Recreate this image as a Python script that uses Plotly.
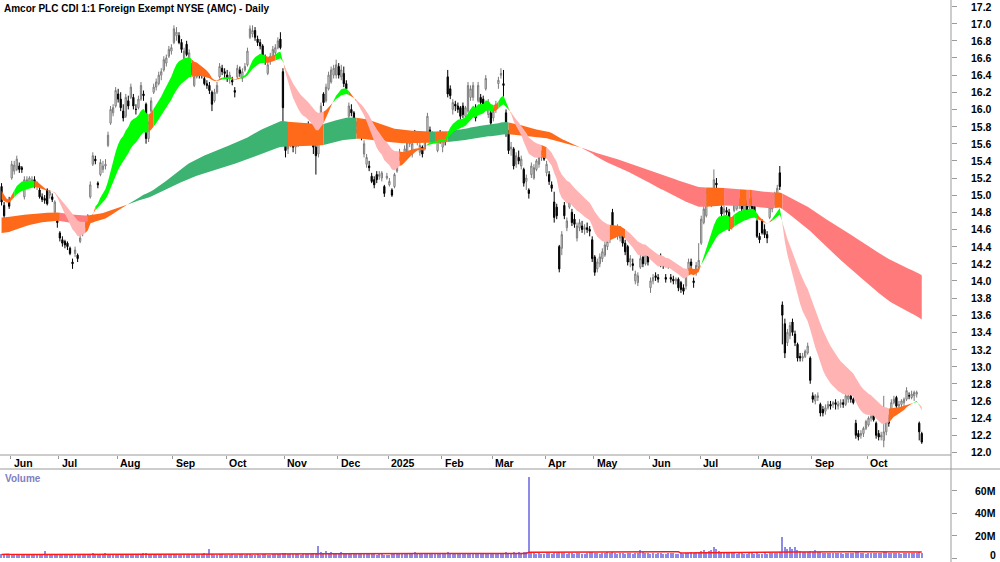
import numpy as np
import pandas as pd
import plotly.graph_objects as go

# ---------------- data (ASX trading days, 28 May 2024 - 30 Oct 2025) ----------------
asx_holidays = ["2024-06-10", "2024-12-25", "2024-12-26", "2025-01-01", "2025-01-27",
                "2025-04-18", "2025-04-21", "2025-04-25", "2025-06-09"]
all_days = pd.bdate_range("2024-05-28", "2025-10-30")
dates = all_days[~all_days.isin(pd.to_datetime(asx_holidays))]

opens = [
    15.10, 14.88, 14.70, 14.94, 15.20, 15.28, 15.30, 15.34, 15.32, 14.98,
    15.12, 15.14, 15.16, 15.18, 15.10, 15.06, 14.98, 14.96, 15.06, 15.00,
    14.98, 14.80, 14.70, 14.56, 14.48, 14.46, 14.44, 14.38, 14.22, 14.32,
    14.30, 14.46, 14.55, 14.66, 14.68, 14.98, 15.36, 15.42, 15.14, 15.24,
    15.30, 15.34, 15.58, 15.84, 15.96, 16.04, 16.18, 16.12, 15.98, 15.92,
    16.10, 16.14, 16.14, 16.00, 16.02, 16.12, 16.18, 16.06, 15.66, 15.98,
    16.20, 16.26, 16.30, 16.40, 16.46, 16.54, 16.62, 16.68, 16.78, 16.86,
    16.86, 16.78, 16.52, 16.76, 16.56, 16.50, 16.28, 16.38, 16.46, 16.40,
    16.36, 16.30, 16.28, 16.20, 16.10, 16.20, 16.38, 16.48, 16.44, 16.40,
    16.36, 16.34, 16.22, 16.38, 16.46, 16.36, 16.46, 16.52, 16.84, 16.88,
    16.92, 16.82, 16.78, 16.74, 16.60, 16.42, 16.56, 16.62, 16.66, 16.72,
    16.82, 16.44, 15.76, 15.54, 15.62, 15.66, 15.56, 15.60, 15.70, 15.64,
    15.72, 15.80, 15.70, 15.66, 15.56, 15.48, 15.88, 16.18, 16.10, 16.24,
    16.32, 16.40, 16.40, 16.50, 16.38, 16.42, 16.30, 15.92, 16.00, 15.96,
    15.76, 15.80, 15.72, 15.48, 15.36, 15.34, 15.22, 15.18, 15.24, 15.22,
    15.20, 15.10, 15.20, 15.12, 15.06, 15.10, 15.28, 15.44, 15.44, 15.48,
    15.50, 15.60, 15.48, 15.72, 15.64, 15.50, 15.56, 15.54, 15.68, 15.76,
    15.70, 15.64, 15.52, 15.70, 15.56, 15.66, 16.38, 16.24, 16.00, 16.06,
    16.04, 16.02, 16.04, 15.92, 15.98, 16.14, 16.14, 16.02, 16.10, 16.14,
    16.12, 16.24, 15.94, 15.96, 15.90, 16.00, 16.30, 16.40, 16.30, 15.96,
    15.72, 15.54, 15.54, 15.36, 15.44, 15.34, 15.30, 15.16, 15.06, 15.24,
    15.20, 15.30, 15.36, 15.44, 15.50, 15.26, 15.24, 15.12, 14.92, 14.86,
    14.40, 14.38, 14.88, 14.62, 14.86, 14.80, 14.72, 14.50, 14.62, 14.64,
    14.60, 14.62, 14.60, 14.48, 14.28, 14.14, 14.20, 14.26, 14.30, 14.40,
    14.48, 14.80, 14.56, 14.52, 14.50, 14.56, 14.44, 14.40, 14.22, 14.20,
    14.00, 13.98, 14.16, 14.28, 14.20, 14.30, 13.92, 14.00, 14.06, 14.04,
    14.28, 14.22, 14.04, 14.18, 14.04, 14.02, 14.00, 14.02, 13.98, 13.92,
    13.94, 14.14, 14.22, 14.00, 14.10, 14.16, 14.44, 14.68, 14.76, 14.92,
    14.88, 15.08, 15.14, 15.04, 14.86, 14.80, 14.82, 14.80, 14.64, 14.82,
    14.84, 14.88, 14.96, 14.82, 14.90, 14.86, 14.94, 14.90, 14.70, 14.52,
    14.70, 14.60, 14.54, 14.74, 14.84, 14.90, 15.00, 15.26, 13.72, 13.50,
    13.28, 13.36, 13.52, 13.38, 13.26, 13.12, 13.10, 13.12, 13.16, 13.10,
    12.66, 12.60, 12.64, 12.56, 12.50, 12.48, 12.52, 12.56, 12.56, 12.58,
    12.54, 12.56, 12.58, 12.56, 12.62, 12.66, 12.62, 12.34, 12.22, 12.20,
    12.22, 12.28, 12.32, 12.40, 12.52, 12.34, 12.22, 12.18, 12.14, 12.24,
    12.40, 12.48, 12.58, 12.64, 12.54, 12.56, 12.58, 12.62, 12.66, 12.64,
    12.66, 12.68, 12.34, 12.22,
]
highs = [
    15.14, 14.92, 14.74, 14.98, 15.40, 15.40, 15.46, 15.38, 15.34, 15.22,
    15.22, 15.22, 15.22, 15.22, 15.16, 15.10, 15.02, 15.00, 15.08, 15.06,
    15.02, 14.94, 14.74, 14.58, 14.52, 14.48, 14.46, 14.40, 14.26, 14.40,
    14.32, 14.54, 14.66, 14.74, 14.78, 15.16, 15.50, 15.46, 15.16, 15.42,
    15.40, 15.42, 15.74, 16.04, 16.06, 16.26, 16.24, 16.20, 16.06, 16.18,
    16.16, 16.30, 16.18, 16.06, 16.16, 16.32, 16.22, 16.08, 15.86, 16.14,
    16.30, 16.36, 16.44, 16.48, 16.62, 16.64, 16.74, 16.76, 16.98, 16.96,
    16.90, 16.82, 16.72, 16.80, 16.70, 16.54, 16.42, 16.52, 16.50, 16.44,
    16.40, 16.34, 16.32, 16.22, 16.24, 16.32, 16.54, 16.52, 16.48, 16.46,
    16.44, 16.38, 16.26, 16.52, 16.50, 16.48, 16.54, 16.72, 16.98, 16.98,
    16.96, 16.86, 16.82, 16.76, 16.64, 16.56, 16.66, 16.74, 16.76, 16.84,
    16.90, 16.48, 15.80, 15.70, 15.76, 15.72, 15.66, 15.74, 15.80, 15.78,
    15.84, 15.86, 15.78, 15.72, 15.60, 15.80, 16.08, 16.20, 16.30, 16.44,
    16.50, 16.52, 16.58, 16.54, 16.52, 16.50, 16.34, 16.08, 16.06, 15.98,
    15.86, 15.84, 15.76, 15.64, 15.48, 15.40, 15.26, 15.22, 15.28, 15.28,
    15.28, 15.12, 15.26, 15.20, 15.08, 15.26, 15.48, 15.54, 15.48, 15.58,
    15.66, 15.72, 15.64, 15.76, 15.70, 15.62, 15.58, 15.70, 15.96, 15.80,
    15.74, 15.72, 15.74, 15.76, 15.74, 15.72, 16.46, 16.28, 16.12, 16.10,
    16.08, 16.04, 16.08, 16.04, 16.32, 16.28, 16.32, 16.06, 16.32, 16.18,
    16.16, 16.40, 16.12, 16.00, 16.02, 16.10, 16.38, 16.48, 16.46, 16.00,
    15.76, 15.62, 15.56, 15.50, 15.52, 15.46, 15.32, 15.24, 15.08, 15.38,
    15.36, 15.42, 15.48, 15.52, 15.54, 15.40, 15.28, 15.16, 15.04, 14.90,
    14.42, 14.58, 14.92, 14.74, 15.02, 14.84, 14.78, 14.68, 14.72, 14.70,
    14.66, 14.68, 14.64, 14.52, 14.30, 14.26, 14.32, 14.38, 14.46, 14.50,
    14.62, 14.84, 14.64, 14.66, 14.64, 14.60, 14.48, 14.42, 14.30, 14.26,
    14.12, 14.10, 14.30, 14.32, 14.42, 14.34, 14.04, 14.08, 14.10, 14.08,
    14.32, 14.26, 14.08, 14.24, 14.08, 14.06, 14.04, 14.04, 14.00, 13.96,
    14.10, 14.26, 14.26, 14.04, 14.22, 14.44, 14.76, 14.88, 15.08, 15.08,
    15.08, 15.30, 15.20, 15.08, 14.88, 14.88, 14.86, 14.84, 14.74, 14.98,
    14.98, 14.96, 15.00, 14.96, 14.94, 14.96, 14.98, 14.94, 14.72, 14.56,
    14.72, 14.66, 14.58, 14.88, 14.96, 15.04, 15.12, 15.34, 13.76, 13.56,
    13.44, 13.52, 13.56, 13.42, 13.28, 13.16, 13.16, 13.20, 13.28, 13.12,
    12.70, 12.68, 12.70, 12.58, 12.54, 12.56, 12.60, 12.60, 12.60, 12.62,
    12.60, 12.62, 12.62, 12.70, 12.70, 12.70, 12.64, 12.38, 12.26, 12.26,
    12.30, 12.38, 12.42, 12.46, 12.56, 12.36, 12.26, 12.24, 12.66, 12.52,
    12.44, 12.62, 12.66, 12.66, 12.60, 12.62, 12.64, 12.76, 12.70, 12.72,
    12.72, 12.72, 12.36, 12.24,
]
lows = [
    14.88, 14.72, 14.60, 14.84, 15.18, 15.24, 15.28, 15.26, 15.26, 14.95,
    15.10, 15.10, 15.12, 15.08, 15.06, 14.96, 14.92, 14.90, 14.88, 14.96,
    14.92, 14.78, 14.62, 14.46, 14.40, 14.38, 14.36, 14.30, 14.14, 14.28,
    14.22, 14.44, 14.52, 14.62, 14.64, 14.96, 15.34, 15.36, 15.08, 15.22,
    15.26, 15.30, 15.56, 15.82, 15.92, 16.02, 16.08, 15.98, 15.86, 15.90,
    16.00, 16.12, 16.00, 15.94, 16.00, 16.10, 16.10, 15.60, 15.62, 15.96,
    16.18, 16.22, 16.28, 16.34, 16.44, 16.50, 16.60, 16.64, 16.76, 16.80,
    16.76, 16.66, 16.50, 16.62, 16.52, 16.40, 16.26, 16.36, 16.36, 16.36,
    16.28, 16.24, 16.18, 15.98, 16.08, 16.18, 16.36, 16.40, 16.36, 16.32,
    16.30, 16.28, 16.14, 16.36, 16.38, 16.32, 16.44, 16.50, 16.82, 16.84,
    16.80, 16.74, 16.70, 16.58, 16.52, 16.40, 16.52, 16.60, 16.62, 16.70,
    16.70, 15.86, 15.44, 15.48, 15.56, 15.50, 15.48, 15.56, 15.62, 15.60,
    15.68, 15.66, 15.60, 15.48, 15.24, 15.44, 15.86, 16.04, 16.08, 16.22,
    16.30, 16.36, 16.36, 16.36, 16.34, 16.26, 16.20, 15.90, 15.92, 15.84,
    15.72, 15.70, 15.64, 15.44, 15.32, 15.28, 15.14, 15.08, 15.14, 15.18,
    15.16, 14.98, 15.18, 15.10, 14.98, 15.08, 15.26, 15.40, 15.38, 15.46,
    15.46, 15.56, 15.44, 15.62, 15.58, 15.46, 15.44, 15.52, 15.66, 15.66,
    15.62, 15.60, 15.50, 15.60, 15.50, 15.58, 16.14, 16.12, 15.94, 15.98,
    15.96, 15.88, 15.90, 15.90, 15.96, 16.10, 16.10, 15.86, 16.08, 16.04,
    16.04, 16.22, 15.90, 15.80, 15.86, 15.96, 16.24, 16.36, 16.10, 15.68,
    15.48, 15.46, 15.30, 15.32, 15.36, 15.30, 15.10, 15.06, 14.96, 15.20,
    15.18, 15.28, 15.32, 15.40, 15.40, 15.22, 15.12, 15.04, 14.68, 14.72,
    14.10, 14.30, 14.72, 14.58, 14.84, 14.64, 14.62, 14.46, 14.58, 14.56,
    14.54, 14.56, 14.52, 14.22, 14.06, 14.10, 14.16, 14.22, 14.28, 14.36,
    14.44, 14.50, 14.50, 14.48, 14.46, 14.40, 14.30, 14.18, 14.16, 14.12,
    13.96, 13.94, 14.14, 14.16, 14.18, 14.18, 13.86, 13.96, 14.00, 13.98,
    14.16, 14.14, 13.98, 14.14, 13.98, 13.96, 13.96, 13.88, 13.86, 13.84,
    13.90, 14.12, 14.14, 13.92, 14.06, 14.14, 14.42, 14.66, 14.74, 14.90,
    14.86, 15.06, 15.04, 14.92, 14.74, 14.76, 14.76, 14.58, 14.60, 14.80,
    14.82, 14.84, 14.80, 14.80, 14.76, 14.82, 14.80, 14.76, 14.50, 14.44,
    14.54, 14.50, 14.44, 14.72, 14.80, 14.88, 14.96, 15.06, 13.26, 13.10,
    13.24, 13.32, 13.36, 13.24, 13.06, 13.06, 13.06, 13.10, 13.14, 12.80,
    12.58, 12.56, 12.60, 12.42, 12.42, 12.44, 12.50, 12.50, 12.52, 12.50,
    12.50, 12.52, 12.52, 12.54, 12.58, 12.58, 12.56, 12.16, 12.14, 12.16,
    12.18, 12.26, 12.30, 12.36, 12.36, 12.16, 12.14, 12.14, 12.06, 12.20,
    12.30, 12.46, 12.56, 12.52, 12.50, 12.52, 12.54, 12.60, 12.62, 12.62,
    12.60, 12.64, 12.14, 12.10,
]
closes = [
    14.92, 14.76, 14.66, 14.87, 15.36, 15.35, 15.42, 15.30, 15.30, 15.18,
    15.18, 15.20, 15.18, 15.12, 15.14, 14.98, 14.95, 14.94, 14.90, 15.04,
    14.95, 14.92, 14.68, 14.50, 14.44, 14.42, 14.40, 14.32, 14.20, 14.36,
    14.26, 14.50, 14.64, 14.70, 14.76, 15.12, 15.46, 15.40, 15.12, 15.38,
    15.34, 15.36, 15.70, 16.00, 16.02, 16.22, 16.12, 16.02, 15.90, 16.14,
    16.04, 16.26, 16.04, 16.00, 16.12, 16.28, 16.16, 15.66, 15.84, 16.10,
    16.26, 16.32, 16.40, 16.44, 16.58, 16.60, 16.70, 16.72, 16.94, 16.90,
    16.78, 16.70, 16.68, 16.64, 16.66, 16.44, 16.38, 16.48, 16.40, 16.40,
    16.30, 16.28, 16.22, 16.06, 16.20, 16.28, 16.50, 16.44, 16.42, 16.36,
    16.40, 16.32, 16.20, 16.48, 16.42, 16.44, 16.50, 16.68, 16.94, 16.92,
    16.84, 16.78, 16.74, 16.60, 16.56, 16.52, 16.62, 16.70, 16.72, 16.80,
    16.72, 16.02, 15.52, 15.64, 15.70, 15.56, 15.62, 15.70, 15.66, 15.74,
    15.80, 15.70, 15.66, 15.56, 15.46, 15.76, 16.04, 16.08, 16.26, 16.40,
    16.46, 16.48, 16.52, 16.40, 16.46, 16.30, 16.24, 16.04, 15.96, 15.88,
    15.82, 15.74, 15.68, 15.60, 15.44, 15.32, 15.16, 15.12, 15.18, 15.24,
    15.26, 15.02, 15.22, 15.16, 15.00, 15.24, 15.46, 15.50, 15.42, 15.54,
    15.62, 15.68, 15.60, 15.64, 15.66, 15.58, 15.48, 15.66, 15.92, 15.72,
    15.66, 15.70, 15.72, 15.66, 15.70, 15.64, 16.18, 16.16, 16.08, 16.04,
    16.00, 15.92, 15.94, 16.02, 16.28, 16.24, 16.28, 15.90, 16.28, 16.08,
    16.06, 16.36, 16.08, 15.84, 15.98, 16.06, 16.34, 16.42, 16.28, 15.72,
    15.52, 15.56, 15.34, 15.46, 15.40, 15.42, 15.14, 15.20, 15.02, 15.34,
    15.32, 15.40, 15.44, 15.48, 15.42, 15.36, 15.16, 15.08, 14.74, 14.76,
    14.14, 14.54, 14.76, 14.70, 14.98, 14.68, 14.66, 14.64, 14.68, 14.60,
    14.62, 14.60, 14.58, 14.26, 14.10, 14.22, 14.28, 14.34, 14.42, 14.46,
    14.58, 14.54, 14.60, 14.62, 14.60, 14.44, 14.34, 14.22, 14.26, 14.18,
    14.08, 14.06, 14.26, 14.20, 14.38, 14.22, 14.00, 14.04, 14.04, 14.02,
    14.20, 14.18, 14.02, 14.20, 14.02, 14.00, 14.02, 13.92, 13.90, 13.88,
    14.08, 14.22, 14.18, 13.98, 14.18, 14.24, 14.72, 14.84, 15.04, 15.02,
    15.04, 15.18, 15.12, 14.96, 14.78, 14.84, 14.80, 14.62, 14.70, 14.96,
    14.94, 14.92, 14.84, 14.92, 14.80, 14.92, 14.84, 14.78, 14.52, 14.48,
    14.56, 14.54, 14.50, 14.86, 14.92, 15.00, 15.08, 15.10, 13.60, 13.16,
    13.40, 13.48, 13.40, 13.28, 13.10, 13.10, 13.12, 13.18, 13.24, 12.84,
    12.62, 12.66, 12.66, 12.46, 12.46, 12.52, 12.56, 12.54, 12.58, 12.56,
    12.56, 12.58, 12.56, 12.66, 12.66, 12.62, 12.58, 12.20, 12.18, 12.22,
    12.28, 12.36, 12.40, 12.42, 12.38, 12.20, 12.18, 12.20, 12.24, 12.48,
    12.34, 12.58, 12.62, 12.54, 12.56, 12.60, 12.62, 12.72, 12.66, 12.68,
    12.70, 12.70, 12.24, 12.12,
]
volume_m = [
    3.2, 4.0, 3.1, 2.8, 3.6, 3.0, 2.9, 3.4, 2.7, 3.1,
    2.9, 3.3, 2.6, 3.0, 3.5, 3.2, 3.8, 6.2, 3.4, 3.0,
    3.1, 2.9, 3.6, 3.3, 3.9, 3.2, 3.0, 3.4, 3.8, 3.1,
    3.3, 3.0, 2.8, 3.2, 3.6, 3.9, 4.1, 3.4, 3.2, 3.5,
    3.7, 4.6, 3.8, 3.5, 3.2, 3.6, 3.3, 3.0, 3.4, 3.1,
    2.9, 3.2, 3.4, 3.0, 3.3, 3.6, 4.2, 4.6, 3.5, 3.1,
    3.0, 2.8, 3.2, 3.5, 3.1, 2.9, 3.3, 3.6, 3.2, 3.0,
    2.8, 3.1, 3.4, 3.0, 3.2, 2.9, 3.3, 3.5, 3.1, 4.0,
    4.4, 3.2, 8.0, 3.6, 3.1, 2.9, 3.2, 3.4, 3.0, 2.8,
    3.1, 3.3, 3.0, 2.9, 3.2, 3.4, 3.1, 3.6, 3.3, 3.0,
    2.9, 3.2, 3.0, 3.3, 3.5, 3.1, 2.9, 3.2, 3.4, 3.6,
    3.8, 4.6, 4.4, 3.9, 3.5, 3.3, 3.6, 3.2, 3.0, 3.4,
    3.6, 3.3, 3.9, 4.2, 4.8, 11.0, 5.6, 4.9, 6.0, 4.5,
    5.4, 4.2, 4.6, 3.9, 5.2, 4.1, 3.8, 4.4, 3.6, 3.9,
    4.0, 3.5, 3.8, 4.7, 3.6, 3.3, 3.9, 3.4, 3.0, 3.6,
    3.2, 2.8, 2.5, 3.0, 3.3, 3.6, 3.9, 4.1, 3.5, 3.2,
    3.4, 3.8, 4.2, 5.0, 3.7, 3.3, 3.6, 3.9, 4.4, 3.8,
    4.6, 4.0, 3.7, 4.9, 4.3, 3.9, 5.2, 4.8, 4.2, 3.8,
    4.1, 3.6, 3.9, 4.3, 3.7, 3.5, 4.0, 4.5, 3.8, 3.6,
    3.9, 4.2, 3.7, 4.4, 3.8, 4.1, 3.6, 4.5, 4.9, 5.4,
    4.8, 4.4, 5.0, 4.6, 5.3, 4.7, 5.1, 5.8, 72.0, 4.6,
    4.2, 3.9, 4.4, 4.0, 3.7, 4.1, 4.5, 3.8, 4.9, 4.3,
    5.2, 4.8, 4.4, 4.0, 4.6, 4.2, 3.9, 4.3, 4.1, 3.8,
    4.0, 4.4, 5.3, 5.6, 4.7, 4.2, 3.9, 4.1, 4.5, 5.8,
    4.8, 5.2, 4.3, 4.0, 4.6, 4.1, 3.8, 4.2, 4.4, 4.0,
    4.3, 4.7, 6.8, 5.4, 4.6, 4.2, 4.0, 4.3, 3.9, 4.1,
    4.4, 4.0, 3.8, 4.2, 4.6, 4.1, 3.7, 4.0, 4.3, 3.9,
    4.2, 4.6, 5.4, 4.9, 5.8, 5.2, 6.4, 7.0, 5.6, 6.2,
    7.2, 10.2, 8.0, 6.0, 5.2, 4.6, 4.2, 4.8, 4.4, 4.1,
    3.9, 4.3, 4.7, 4.0, 3.8, 4.2, 4.5, 3.9, 4.1, 3.7,
    4.0, 4.4, 3.8, 4.2, 4.6, 4.3, 4.8, 5.2, 18.5, 9.6,
    8.4, 10.0, 7.6, 9.4, 6.8, 6.2, 5.6, 5.0, 5.8, 6.4,
    5.4, 6.8, 5.6, 5.0, 4.6, 4.3, 4.8, 4.4, 4.1, 4.5,
    4.2, 4.6, 4.0, 4.4, 4.1, 4.8, 4.3, 6.0, 5.2, 4.6,
    4.4, 4.0, 4.5, 4.2, 4.9, 4.6, 4.3, 4.8, 5.6, 5.0,
    4.4, 4.2, 4.6, 4.1, 4.4, 4.0, 4.3, 4.7, 4.2, 4.5,
    4.1, 4.4, 5.4, 4.8,
]
month_names = ["Jan", "Feb", "Mar", "Apr", "May", "Jun", "Jul", "Aug", "Sep", "Oct", "Nov", "Dec"]
price_ticks = [round(12.0 + 0.2 * k, 1) for k in range(27)]
volume_ticks = [0, 20e6, 40e6, 60e6]
volume_tick_text = ["0", "20M", "40M", "60M"]

short_periods = (13, 26)
long_periods = (130, 220)
short_start = (15.05, 14.95)
long_start = (14.56, 14.74)
slope_days = 3

# ---------------- derived ----------------
n = min(len(opens), len(highs), len(lows), len(closes), len(volume_m))
opens, highs, lows, closes = [np.array(a[:n]) for a in (opens, highs, lows, closes)]
vol = np.array(volume_m[:n]) * 1e6
idx = np.arange(n)
dates = dates[:n]


def ema(vals, period, start):
    a = 2.0 / (period + 1)
    out = [start]
    for v in vals[1:]:
        out.append(out[-1] + a * (v - out[-1]))
    return np.array(out)


def band_traces(fast, slow, colors):
    up = fast > slow
    prev = np.array([fast[max(i - slope_days, 0)] for i in range(n)])
    prev[0] = fast[0] - (fast[1] - fast[0])
    rising = fast > prev
    state = np.where(up & rising, 0, np.where(~up & ~rising, 2, 1))
    traces = []
    start = 0
    for i in range(1, n + 1):
        if i == n or state[i] != state[start]:
            end = min(i, n - 1)
            xs = list(idx[start:end + 1]) + list(idx[start:end + 1][::-1])
            ys = list(fast[start:end + 1]) + list(slow[start:end + 1][::-1])
            traces.append(go.Scatter(x=xs, y=ys, fill="toself", mode="lines",
                                     line=dict(width=0), fillcolor=colors[state[start]],
                                     hoverinfo="skip", showlegend=False,
                                     xaxis="x", yaxis="y"))
            start = i
    return traces


s_fast = ema(closes, short_periods[0], short_start[0])
s_slow = ema(closes, short_periods[1], short_start[1])
l_fast = ema(closes, long_periods[0], long_start[0])
l_slow = ema(closes, long_periods[1], long_start[1])
vol_ma = pd.Series(vol).rolling(60, min_periods=1).mean().values

ORANGE = "#FF6A1A"
fig = go.Figure()
for t in band_traces(l_fast, l_slow, ["#3CB371", ORANGE, "#FF7B7B"]):
    fig.add_trace(t)
for t in band_traces(s_fast, s_slow, ["#00FF00", ORANGE, "#FFB3B3"]):
    fig.add_trace(t)

fig.add_trace(go.Candlestick(
    x=idx, open=opens, high=highs, low=lows, close=closes,
    increasing=dict(line=dict(color="#7A7A7A", width=1), fillcolor="white"),
    decreasing=dict(line=dict(color="black", width=1), fillcolor="black"),
    whiskerwidth=0, showlegend=False, hoverinfo="skip", xaxis="x", yaxis="y"))

fig.add_trace(go.Bar(x=idx, y=vol, width=0.45, marker=dict(color="#8C8CE8", line=dict(width=0)),
                     showlegend=False, hoverinfo="skip", xaxis="x2", yaxis="y2"))
fig.add_trace(go.Scatter(x=idx, y=vol_ma, mode="lines", line=dict(color="#FF1A1A", width=1.5),
                         showlegend=False, hoverinfo="skip", xaxis="x2", yaxis="y2"))

# ---------------- layout ----------------
W, H = 1000, 562
PLOT_R = 951
px_per_day = 2.535
x0_px = 1.56
xr = [(0 - x0_px) / px_per_day, (PLOT_R - x0_px) / px_per_day]


def py(px):
    return 1 - px / H


price_bottom_px, vol_top_px = 455, 469
p_per_px = 1 / 85.75
y_top = 17.2 + 6.5 * p_per_px
y_bot = 17.2 - (price_bottom_px - 6.5) * p_per_px
vol_px_per = 1.12 / 1e6
v_bot = -(562 - 558) / vol_px_per
v_top = (558 - vol_top_px) / vol_px_per

month_starts = [i for i in range(n) if i == 0 or dates[i].month != dates[i - 1].month]
month_starts = [i for i in month_starts if dates[i].day <= 7]
tick_pos = [i - 0.45 for i in month_starts]

FONT = "Liberation Sans, Arial, sans-serif"
annotations = [dict(text="<b>Amcor PLC CDI 1:1 Foreign Exempt NYSE (AMC) - Daily</b>",
                    x=2 / PLOT_R, y=py(8.5), xref="paper", yref="paper", xanchor="left",
                    yanchor="middle", showarrow=False, font=dict(size=10, color="black", family=FONT)),
               dict(text="<b>Volume</b>", x=2.5 / PLOT_R, y=py(478.5), xref="paper", yref="paper",
                    xanchor="left", yanchor="middle", showarrow=False,
                    font=dict(size=10, color="#8080C0", family=FONT))]
for i, tp in zip(month_starts, tick_pos):
    d = dates[i]
    label = str(d.year) if d.month == 1 else month_names[d.month - 1]
    annotations.append(dict(text=f"<b>{label}</b>", x=tp, y=py(463), xref="x", yref="paper",
                            xanchor="left", yanchor="middle", xshift=1, showarrow=False,
                            font=dict(size=10.5, color="black", family=FONT)))
for v in price_ticks:
    annotations.append(dict(text=f"<b>{v:.1f}</b>", x=994 / PLOT_R, y=v, xref="paper", yref="y",
                            xanchor="right", yanchor="middle", showarrow=False,
                            font=dict(size=10.5, color="black", family=FONT)))
for v, t in zip(volume_ticks, volume_tick_text):
    annotations.append(dict(text=f"<b>{t}</b>", x=998 / PLOT_R, y=v, xref="paper", yref="y2",
                            xanchor="right", yanchor="middle", showarrow=False,
                            yshift=3 if v == 0 else 0,
                            font=dict(size=10.5, color="black", family=FONT)))

LINE = "#9A9A9A"
shapes = [
    dict(type="line", xref="paper", yref="paper", x0=1, x1=1, y0=0, y1=1, line=dict(color=LINE, width=1)),
    dict(type="line", xref="paper", yref="paper", x0=0, x1=1, y0=py(price_bottom_px), y1=py(price_bottom_px),
         line=dict(color=LINE, width=1)),
    dict(type="line", xref="paper", yref="paper", x0=0, x1=W / PLOT_R, y0=py(vol_top_px), y1=py(vol_top_px),
         line=dict(color=LINE, width=1)),
]

fig.update_layout(
    width=W, height=H, margin=dict(l=0, r=W - PLOT_R, t=0, b=0),
    paper_bgcolor="white", plot_bgcolor="white", showlegend=False,
    font=dict(family=FONT, color="black"),
    xaxis=dict(domain=[0, 1], range=xr, anchor="y", showgrid=False, zeroline=False,
               showticklabels=False, ticks="outside", ticklen=3, tickcolor=LINE,
               tickvals=tick_pos, rangeslider=dict(visible=False), showline=False),
    yaxis=dict(domain=[py(price_bottom_px), 1], range=[y_bot, y_top], side="right", anchor="x",
               showgrid=False, zeroline=False, ticks="outside", ticklen=5, tickcolor=LINE,
               tickvals=price_ticks, showticklabels=False, showline=False),
    xaxis2=dict(domain=[0, 1], range=xr, anchor="y2", matches="x", showgrid=False, zeroline=False,
                showticklabels=False, ticks="", showline=False),
    yaxis2=dict(domain=[0, py(vol_top_px)], range=[v_bot, v_top], side="right", anchor="x2",
                showgrid=False, zeroline=False, ticks="outside", ticklen=5, tickcolor=LINE,
                tickvals=volume_ticks, showticklabels=False, showline=False),
    annotations=annotations, shapes=shapes, bargap=0,
)

fig.write_html("out.html")
